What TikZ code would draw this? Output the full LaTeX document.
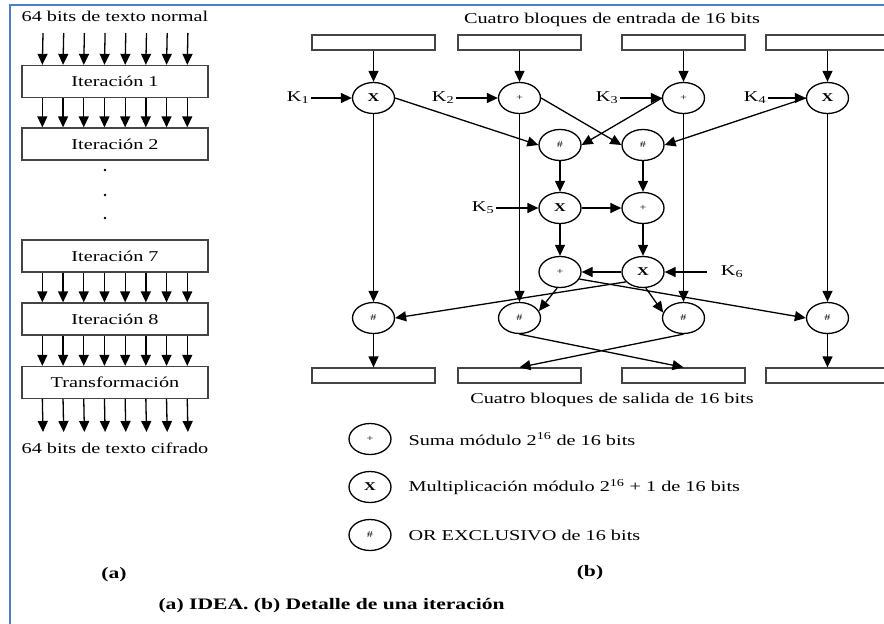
\documentclass[tikz,border=0pt]{standalone}
\usepackage{fontspec}
\setmainfont{Liberation Serif}[FakeStretch=1.35]
\usetikzlibrary{arrows.meta,shapes.geometric}
\definecolor{frameBlue}{HTML}{4A7EC7}
\definecolor{boxGray}{HTML}{444444}
\newcommand{\opMul}{{\fontsize{12}{12}\selectfont\bfseries X}}
\newcommand{\opAdd}{{\fontsize{9}{9}\selectfont +}}
\newcommand{\opXor}{{\fontsize{9}{9}\selectfont\#}}

\begin{document}
\begin{tikzpicture}[x=1pt,y=-1pt,font=\fontsize{15}{17}\selectfont,
  iter/.style={draw=boxGray,line width=1.3pt,minimum width=186pt,minimum height=32pt,inner sep=0pt},
  blk/.style={draw=boxGray,line width=1.3pt,minimum width=123pt,minimum height=15pt,inner sep=0pt},
  op/.style={draw,ellipse,line width=1.3pt,minimum width=42pt,minimum height=31pt,inner sep=0pt},
  flow/.style={-{Triangle[length=11pt,width=10pt]},line width=1.3pt},
  lbl/.style={inner sep=2pt},
  captxt/.style={font=\fontsize{16}{18}\selectfont\bfseries}]
  \useasboundingbox (0,0) rectangle (884,624);
  \clip (0,0) rectangle (884,624);
  \draw[frameBlue,line width=2pt] (10,630) -- (10,5) -- (890,5);
  % (a) the eight rounds
  \node (plain) at (115,16) {64 bits de texto normal};
  \coordinate (inTop) at (22,33);
  \node[iter] (it1) at (115,81.5) {Iteración 1};
  \node[iter] (it2) at (115,144) {Iteración 2};
  \foreach \y in {170,195,218} \fill (105,\y) circle (1.4pt);
  \node[iter] (it7) at (115,256) {Iteración 7};
  \node[iter] (it8) at (115,319) {Iteración 8};
  \node[iter] (tr) at (115,382.5) {Transformación};
  \coordinate (outBot) at (22,432);
  \node (cipher) at (115,448) {64 bits de texto cifrado};
  \foreach \a/\b in {inTop/it1.north west,it1.south west/it2.north west,it7.south west/it8.north west,
                     it8.south west/tr.north west,tr.south west/outBot}
    \foreach \i in {0,...,7}
      \draw[flow] ([xshift={21+20.7*\i}]\a) -- ([xshift={21+20.7*\i}]\b);
  \node[captxt] (capA) at (114,575) {(a)};
  % (b) one round
  \node (inTitle) at (612,20) {Cuatro bloques de entrada de 16 bits};
  \foreach \n/\x in {1/373.5,2/519.5,3/683.5,4/827.5}{
    \node[blk] (in\n) at (\x,42.5) {};
    \node[blk] (out\n) at (\x,375.5) {};
  }
  \node[op] (mA) at (373.5,98) {\opMul};
  \node[op] (aB) at (519.5,98) {\opAdd};
  \node[op] (aC) at (683.5,98) {\opAdd};
  \node[op] (mD) at (827.5,98) {\opMul};
  \node[op] (xA) at (560,145) {\opXor};
  \node[op] (xB) at (643,145) {\opXor};
  \node[op] (mE) at (560,208) {\opMul};
  \node[op] (aF) at (643,208) {\opAdd};
  \node[op] (aG) at (560,272) {\opAdd};
  \node[op] (mH) at (643,272) {\opMul};
  \node[op] (xC) at (373.5,318) {\opXor};
  \node[op] (xD) at (519.5,318) {\opXor};
  \node[op] (xE) at (683.5,318) {\opXor};
  \node[op] (xF) at (827.5,318) {\opXor};
  \node[lbl] (k1) at (298,98) {K\textsubscript{1}};
  \node[lbl] (k2) at (443,98) {K\textsubscript{2}};
  \node[lbl] (k3) at (607,98) {K\textsubscript{3}};
  \node[lbl] (k4) at (755,98) {K\textsubscript{4}};
  \node[lbl] (k5) at (483,208) {K\textsubscript{5}};
  \node[lbl] (k6) at (732,272) {K\textsubscript{6}};
  \foreach \n/\o in {1/mA,2/aB,3/aC,4/mD}{
    \draw[flow] (in\n.south) -- (\o.north);
    \draw[flow] (k\n.east) -- (\o.west);
  }
  \draw[flow] (mA.south) -- (xC.north);
  \draw[flow] (aB.south) -- (xD.north);
  \draw[flow] (aC.south) -- (xE.north);
  \draw[flow] (mD.south) -- (xF.north);
  \draw[flow] (mA.east) -- (xA.west);
  \draw[flow] (aB.east) -- (xB.west);
  \draw[flow] (aC.west) -- (xA.east);
  \draw[flow] (mD.west) -- (xB.east);
  \draw[flow] (xA.south) -- (mE.north);
  \draw[flow] (xB.south) -- (aF.north);
  \draw[flow] (k5.east) -- (mE.west);
  \draw[flow] (mE.east) -- (aF.west);
  \draw[flow] (mE.south) -- (aG.north);
  \draw[flow] (aF.south) -- (mH.north);
  \draw[flow] ([xshift=-12pt]k6.west) -- (mH.east);
  \draw[flow] (mH.west) -- (aG.east);
  \draw[flow] (aG.-100) -- (xD.20);
  \draw[flow] (aG.-20) -- (xF.west);
  \draw[flow] (mH.-80) -- (xE.165);
  \draw[flow] (mH.-150) -- (xC.east);
  \draw[flow] (xC.south) -- (out1.north);
  \draw[flow] (xD.south) -- (out3.north);
  \draw[flow] (xE.south) -- (out2.north);
  \draw[flow] (xF.south) -- (out4.north);
  \node (outTitle) at (612,400) {Cuatro bloques de salida de 16 bits};
  % legend
  \node[op] (lgAdd) at (370,439) {\opAdd};
  \node[op] (lgMul) at (370,487) {\opMul};
  \node[op] (lgXor) at (370,535) {\opXor};
  \node[anchor=west] (lgAddTxt) at (405,439) {Suma módulo 2\textsuperscript{16} de 16 bits};
  \node[anchor=west] (lgMulTxt) at (405,487) {Multiplicación módulo 2\textsuperscript{16} + 1 de 16 bits};
  \node[anchor=west] (lgXorTxt) at (405,535) {OR EXCLUSIVO de 16 bits};
  \node[captxt] (capB) at (590,573) {(b)};
  \node[captxt,anchor=west] (caption) at (155,606) {(a) IDEA. (b) Detalle de una iteración};
\end{tikzpicture}
\end{document}
